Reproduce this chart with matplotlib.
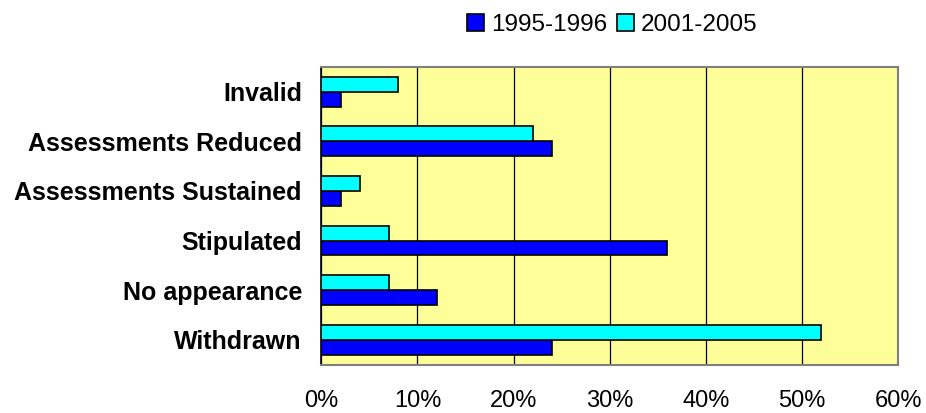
import numpy as np
import matplotlib.pyplot as plt
from matplotlib.ticker import PercentFormatter

plt.rcParams['font.family'] = ['Liberation Sans', 'DejaVu Sans']

# Data (percent)
categories = ["Invalid", "Assessments Reduced", "Assessments Sustained",
              "Stipulated", "No appearance", "Withdrawn"]
vals_1995 = [2, 24, 2, 36, 12, 24]
vals_2001 = [8, 22, 4, 7, 7, 52]
series_labels = ["1995-1996", "2001-2005"]
xticks = [0, 10, 20, 30, 40, 50, 60]

fig = plt.figure(figsize=(9.26, 4.13), dpi=100)
ax = fig.add_axes([0.347, 0.117, 0.623, 0.721])
ax.set_facecolor("#FFFF99")

y = np.arange(len(categories))
h = 0.3
ax.barh(y + h / 2, vals_1995, height=h, color="#0000FF", edgecolor="black",
        linewidth=1.2, label=series_labels[0], zorder=3)
ax.barh(y - h / 2, vals_2001, height=h, color="#00FFFF", edgecolor="black",
        linewidth=1.2, label=series_labels[1], zorder=3)

ax.set_ylim(len(categories) - 0.5, -0.5)
ax.set_xlim(0, 60)
ax.set_xticks(xticks)
ax.xaxis.set_major_formatter(PercentFormatter(decimals=0))
ax.set_yticks(y)
ax.set_yticklabels(categories, fontsize=18, fontweight="bold")
ax.tick_params(axis="y", length=0, pad=14)
ax.tick_params(axis="x", length=0, pad=18, labelsize=17)

ax.grid(axis="x", color="black", linewidth=0.9, zorder=1)
for side in ["top", "right", "bottom"]:
    ax.spines[side].set_color("#808080")
    ax.spines[side].set_linewidth(1.5)
ax.spines["left"].set_color("black")
ax.spines["left"].set_linewidth(1.2)

leg = fig.legend(loc="center", bbox_to_anchor=(0.661, 0.94), ncol=2, frameon=False,
                 fontsize=17.5, handlelength=0.7, handleheight=0.7, handletextpad=0.3,
                 columnspacing=0.4)
for p in leg.get_patches():
    p.set_linewidth(1.2)

fig.savefig("out.png", dpi=100)
